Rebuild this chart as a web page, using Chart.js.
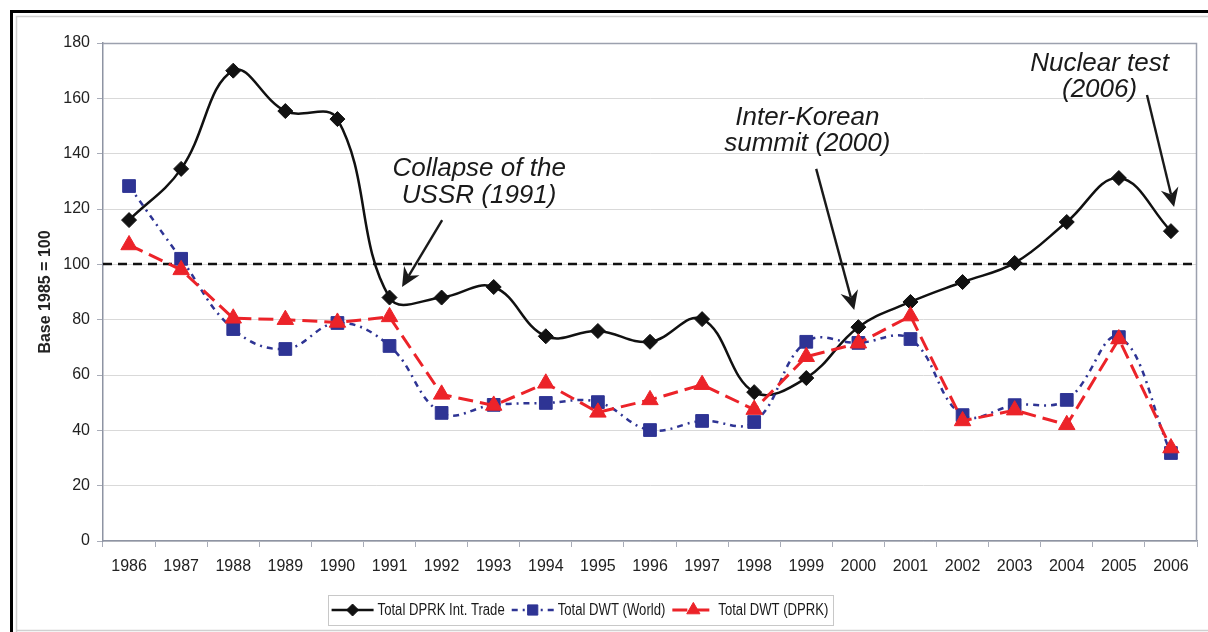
<!DOCTYPE html>
<html><head><meta charset="utf-8">
<script src="https://cdn.jsdelivr.net/npm/chart.js@4/dist/chart.umd.min.js"></script>
<style>html,body{margin:0;padding:0;background:#fff;overflow:hidden}#wrap{width:1208px;height:632px;position:relative}canvas{display:block}</style>
</head><body><div id="wrap"><canvas id="c" width="1208" height="632"></canvas></div>
<script>
// ---------- data ----------
const years = ['1986','1987','1988','1989','1990','1991','1992','1993','1994','1995','1996','1997','1998','1999','2000','2001','2002','2003','2004','2005','2006'];
const tradeTotal = [116,134.5,170,155.4,152.5,88,88,91.8,74,75.9,72,80.2,53.8,58.9,77.3,86.4,93.6,100.5,115.3,131.2,112];
const dwtWorld  = [128.3,102,76.6,69.4,78.8,70.5,46.3,49.2,49.9,50.2,40.1,43.4,43,72,71.6,73,45.5,49.1,51,73.7,31.8];
const dwtDprk   = [107,98,80.5,80,79,81,53,49,57,46.5,51,56.5,47.5,66.6,71.5,81.3,43.4,47.3,42,73,33.6];
const seriesNames = ['Total DPRK Int. Trade','Total DWT (World)','Total DWT (DPRK)'];
const yMin = 0, yMax = 180, yStep = 20;
const baseLevel = 100;
const yTitle = 'Base 1985 = 100';
const annotationTexts = [['Collapse of the','USSR (1991)'],['Inter-Korean','summit (2000)'],['Nuclear test','(2006)']];

// annotation placement (in data units: category index, value)
const annotationPlace = [
  {tx:6.72, ty:[131.9,122.2], from:[6.01,116.0], to:[5.24,91.8]},
  {tx:13.02, ty:[150.4,141.0], from:[13.19,134.5], to:[13.92,83.5]},
  {tx:18.63, ty:[169.9,160.5], from:[19.54,161.2], to:[20.06,120.7]}
];

const BLACK='#111111', BLUE='#2e3494', RED='#ec2329';
const BLUE_DASH=[6,5,2,5], RED_DASH=[15,7];

function arrow(ctx,x1,y1,x2,y2){
  const a=Math.atan2(y2-y1,x2-x1), L=19, W=9, N=6;
  const c=Math.cos(a), s=Math.sin(a), nx=-s, ny=c;
  ctx.beginPath();ctx.moveTo(x1,y1);ctx.lineTo(x2-c*(L-N),y2-s*(L-N));ctx.stroke();
  const bx=x2-c*L, by=y2-s*L;
  ctx.beginPath();ctx.moveTo(x2,y2);ctx.lineTo(bx+nx*W,by+ny*W);
  ctx.lineTo(x2-c*(L-N),y2-s*(L-N));ctx.lineTo(bx-nx*W,by-ny*W);ctx.closePath();ctx.fill();
}

const decor = {
  id:'decor',
  beforeDraw(chart){
    const ctx=chart.ctx;
    ctx.save();
    ctx.fillStyle='#fff';ctx.fillRect(0,0,chart.width,chart.height);
    ctx.fillStyle='#000';ctx.fillRect(10,10,chart.width-10,3);ctx.fillRect(10,10,3,chart.height-10);
    ctx.strokeStyle='#d0d0d0';ctx.lineWidth=1.5;
    ctx.beginPath();ctx.moveTo(16.5,chart.height);ctx.lineTo(16.5,16.5);ctx.lineTo(chart.width,16.5);
    ctx.moveTo(16.5,630.5);ctx.lineTo(chart.width,630.5);ctx.stroke();
    ctx.restore();
  },
  beforeDatasetsDraw(chart){
    const ctx=chart.ctx, a=chart.chartArea, ys=chart.scales.y;
    ctx.save();
    ctx.strokeStyle='#9ca1ae';ctx.lineWidth=1.5;
    ctx.beginPath();ctx.moveTo(a.left,a.top+0.5);ctx.lineTo(a.right-0.5,a.top+0.5);ctx.lineTo(a.right-0.5,a.bottom);ctx.stroke();
    const y=Math.round(ys.getPixelForValue(baseLevel));
    ctx.strokeStyle='#111';ctx.lineWidth=2.4;ctx.setLineDash([9,6]);
    ctx.beginPath();ctx.moveTo(a.left,y);ctx.lineTo(a.right,y);ctx.stroke();
    ctx.restore();
  },
  afterDraw(chart){
    const ctx=chart.ctx, xs=chart.scales.x, ys=chart.scales.y;
    ctx.save();
    // annotations
    ctx.fillStyle='#1a1a1a';ctx.strokeStyle='#1a1a1a';ctx.lineWidth=2.4;
    ctx.font='italic 26px "Liberation Sans", Arial, Helvetica, sans-serif';
    ctx.textAlign='center';ctx.textBaseline='alphabetic';
    annotationTexts.forEach((lines,i)=>{
      const p=annotationPlace[i];
      lines.forEach((t,j)=>ctx.fillText(t, xs.getPixelForValue(p.tx), ys.getPixelForValue(p.ty[j])));
      arrow(ctx, xs.getPixelForValue(p.from[0]), ys.getPixelForValue(p.from[1]), xs.getPixelForValue(p.to[0]), ys.getPixelForValue(p.to[1]));
    });
    // legend
    ctx.font='16px "Liberation Sans", Arial, sans-serif';
    ctx.textAlign='left';ctx.textBaseline='middle';
    const squeeze=0.82;
    const sampleW=42, gapS=4, gapT=7, pad=4;
    const ds=chart.data.datasets;
    const widths=ds.map(d=>sampleW+gapS+ctx.measureText(d.label).width*squeeze);
    const total=widths.reduce((s,w)=>s+w,0)+gapT*(ds.length-1)+pad*2;
    const cx=580, top=595, h=30, cy=top+h/2;
    let x=cx-total/2;
    ctx.strokeStyle='#c8c8c8';ctx.lineWidth=1;ctx.strokeRect(Math.round(x)+0.5,top+0.5,Math.round(total),h);
    x+=pad;
    ds.forEach((d,i)=>{
      ctx.save();
      ctx.strokeStyle=d.borderColor;ctx.lineWidth=d.borderWidth;ctx.setLineDash(d.borderDash||[]);
      ctx.beginPath();ctx.moveTo(x,cy);ctx.lineTo(x+sampleW,cy);ctx.stroke();
      ctx.setLineDash([]);
      ctx.fillStyle=d.pointBackgroundColor;ctx.strokeStyle=d.pointBorderColor;ctx.lineWidth=1;
      Chart.helpers.drawPoint(ctx,{pointStyle:d.pointStyle,radius:d.pointRadius*0.8,rotation:0,borderWidth:1},x+sampleW/2,cy);
      ctx.restore();
      ctx.save();
      ctx.fillStyle='#1a1a1a';
      ctx.translate(x+sampleW+gapS,cy+1);ctx.scale(squeeze,1);
      ctx.fillText(d.label,0,0);
      ctx.restore();
      x+=widths[i]+gapT;
    });
    ctx.restore();
  }
};

new Chart(document.getElementById('c'),{
  type:'line',
  data:{labels:years,datasets:[
    {label:seriesNames[0],data:tradeTotal,borderColor:BLACK,backgroundColor:BLACK,borderWidth:2.5,tension:0.4,
     pointStyle:'rectRot',pointRadius:7.5,pointBackgroundColor:BLACK,pointBorderColor:BLACK,pointBorderWidth:1,order:2},
    {label:seriesNames[1],data:dwtWorld,borderColor:BLUE,backgroundColor:BLUE,borderWidth:2.5,borderDash:BLUE_DASH,tension:0.4,
     pointStyle:'rect',pointRadius:9,pointBackgroundColor:BLUE,pointBorderColor:BLUE,pointBorderWidth:1,order:1},
    {label:seriesNames[2],data:dwtDprk,borderColor:RED,backgroundColor:RED,borderWidth:3,borderDash:RED_DASH,tension:0,
     pointStyle:'triangle',pointRadius:9.5,pointBackgroundColor:RED,pointBorderColor:RED,pointBorderWidth:1,order:0}
  ]},
  options:{
    responsive:false,animation:false,events:[],
    layout:{padding:{left:20,top:43,right:11,bottom:51}},
    plugins:{legend:{display:false},tooltip:{enabled:false},title:{display:false}},
    scales:{
      x:{type:'category',offset:true,
         grid:{offset:true,drawOnChartArea:false,drawTicks:true,tickLength:6,color:'#a8acb8',lineWidth:1},
         border:{color:'#8e94a3',width:1.5},
         ticks:{color:'#222',padding:10,font:{size:16,family:'"Liberation Sans", Arial, sans-serif'},maxRotation:0,autoSkip:false},
         afterFit(s){s.height=40;}},
      y:{min:yMin,max:yMax,
         ticks:{stepSize:yStep,color:'#222',padding:7,font:{size:16,family:'"Liberation Sans", Arial, sans-serif'}},
         grid:{color:'#d9d9d9',lineWidth:1,tickLength:6,tickColor:'#a8acb8'},
         border:{color:'#8e94a3',width:1.5},
         title:{display:true,text:yTitle,color:'#222',font:{size:16,weight:'bold',family:'"Liberation Sans", Arial, sans-serif'},padding:{top:16,bottom:0}},
         afterFit(s){s.width=83;}}
    }
  },
  plugins:[decor]
});
</script></body></html>
